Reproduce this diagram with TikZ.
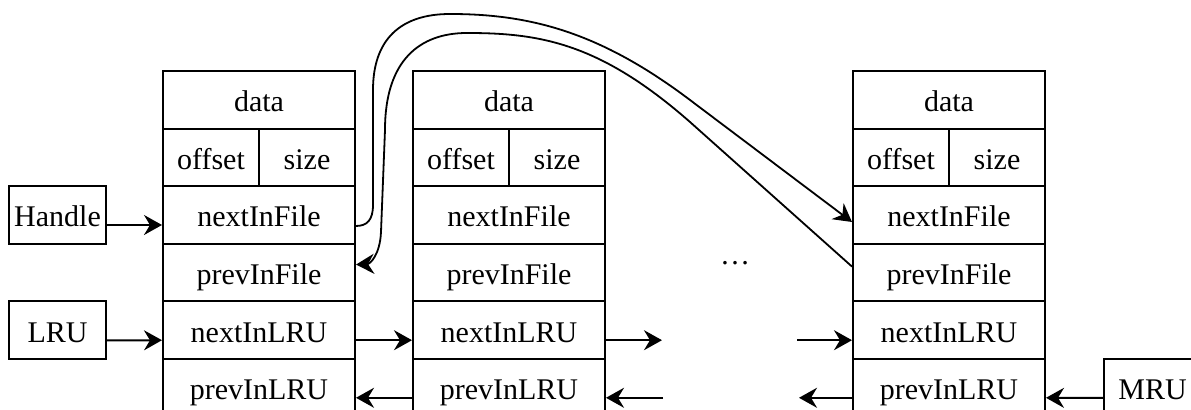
\documentclass[tikz,border=0pt]{standalone}
\usepackage{fontspec}
\setmainfont{Liberation Serif}
\usepackage{tikz}
\usetikzlibrary{arrows.meta}
\tikzstyle{cell}	= [rectangle, draw=black, line width=1pt, minimum width=96pt, minimum height=28.8pt, inner sep=0pt, text height=15.75pt, text depth=3.75pt]
\tikzstyle{halfcell}	= [cell, minimum width=48pt]
\tikzstyle{headbox}	= [rectangle, draw=black, line width=1pt, minimum width=48.5pt, minimum height=29pt, inner sep=0pt, text height=15.5pt, text depth=3.75pt]
\tikzstyle{edgeptr}	= [draw, line width=1pt, -{Stealth[length=9pt,width=10pt,inset=3pt]}]
\tikzstyle{edgefile}	= [edgeptr, line width=0.9pt]

\begin{document}
\begin{tikzpicture}[x=0.5pt, y=-0.5pt, font=\fontsize{15}{18}\selectfont]
		\useasboundingbox (0,0) rectangle (1191,410);
		\clip (0,0) rectangle (1191,410);
		
		%%%%% Records (one column of cells each)
		\foreach \x/\r in {259/r1, 509/r2, 949/r3} {
			\node[cell] (\r-data) at (\x,99.8) {data};
			\node[halfcell] (\r-off) at (\x-48,157.4) {offset};
			\node[halfcell] (\r-size) at (\x+48,157.4) {size};
			\node[cell] (\r-nf) at (\x,215) {nextInFile};
			\node[cell] (\r-pf) at (\x,272.6) {prevInFile};
			\node[cell] (\r-nl) at (\x,330.2) {nextInLRU};
			\node[cell] (\r-pl) at (\x,387.8) {prevInLRU};
		}
		
		%%%% list heads
		\foreach \pos/\name/\txt in {{(57.5,215)/handle/Handle}, {(57.5,330.5)/lru/LRU}, {(1152.5,388)/mru/MRU}}
		\node[headbox] (\name) at \pos {\txt};
		
		\node (dots) at (735,263) {\dots};
		
		%%%% loose ends of the LRU chain
		\coordinate (gapa) at (662,340.2);
		\coordinate (gapb) at (663,397.8);
		\coordinate (gapc) at (797,340.2);
		\coordinate (gapd) at (799,397.8);
		
		%%% LRU links
		\foreach \source/ \dest in {handle/r1-nf, lru/r1-nl, r1-nl/r2-nl}	\path[edgeptr] ([yshift=-5pt]\source.east) -- ([yshift=-5pt]\dest.west);
		\foreach \source/ \dest in {r2-pl/r1-pl, mru/r3-pl}	\path[edgeptr] ([yshift=-5pt]\source.west) -- ([yshift=-5pt]\dest.east);
		\path[edgeptr] ([yshift=-5pt]r2-nl.east) -- (gapa);
		\path[edgeptr] (gapb) -- ([yshift=-5pt]r2-pl.east);
		\path[edgeptr] (gapc) -- ([yshift=-5pt]r3-nl.west);
		\path[edgeptr] ([yshift=-5pt]r3-pl.west) -- (gapd);
		
		%%%% file links
		\path[edgefile] ([yshift=-5.5pt]r1-nf.east) .. controls (367,226) and (373,220) .. (373,205) -- (373,90) .. controls (373,40) and (400,14) .. (450,14) .. controls (530,14) and (600,32) .. (690,100) -- ([yshift=-3.5pt]r3-nf.west);
		\path[edgefile] ([yshift=3pt]r3-pf.west) -- (690,122) .. controls (600,43) and (540,33) .. (467,33) .. controls (420,33) and (385,60) .. (385,130) -- (381,232) .. controls (380,255) and (370,264) .. ([yshift=4pt]r1-pf.east);
\end{tikzpicture}
\end{document}
